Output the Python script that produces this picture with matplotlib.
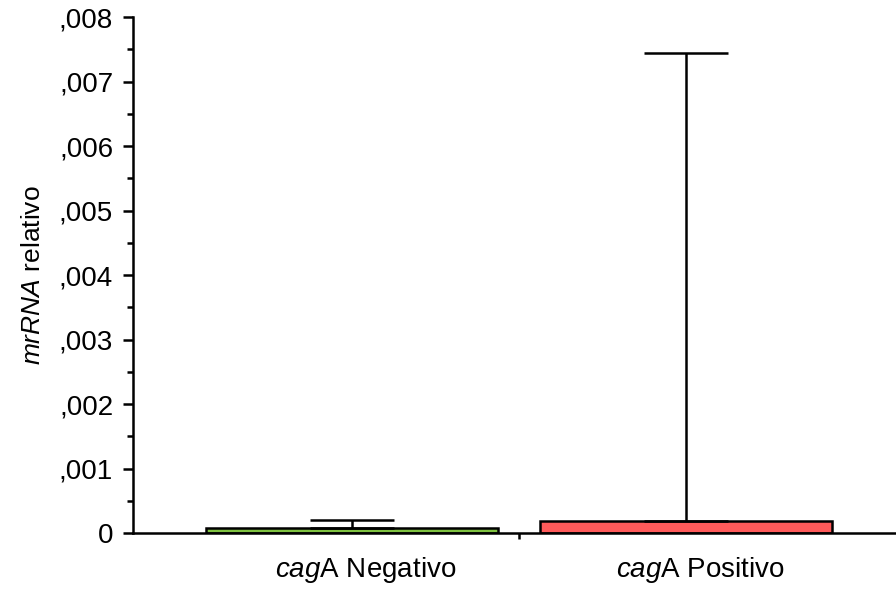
import numpy as np
import matplotlib
matplotlib.use("Agg")
import matplotlib.pyplot as plt

plt.rcParams['font.family'] = ['Liberation Sans', 'DejaVu Sans']
plt.rcParams['mathtext.fontset'] = 'custom'
plt.rcParams['mathtext.rm'] = 'Liberation Sans'
plt.rcParams['mathtext.it'] = 'Liberation Sans:italic'

categories = [r'$\mathit{cag}$A Negativo', r'$\mathit{cag}$A Positivo']
means = [0.00008, 0.00019]
upper_err = [0.00012, 0.00726]
colors = ['#7fc241', '#ff5a5a']
yticks = [0, 0.001, 0.002, 0.003, 0.004, 0.005, 0.006, 0.007, 0.008]
ytick_labels = ['0', ',001', ',002', ',003', ',004', ',005', ',006', ',007', ',008']

fig = plt.figure(figsize=(8.96, 5.91), dpi=100)
ax = fig.add_axes([0.148, 0.098, 0.852, 0.873])

x = np.arange(len(categories))
lw = 1.8
ax.bar(x, means, width=0.874, color=colors, edgecolor='black', linewidth=lw, zorder=2)
ax.errorbar(x, means, yerr=[np.zeros(len(means)), upper_err], fmt='none',
            ecolor='black', elinewidth=lw, capsize=30, capthick=lw, zorder=3)

ax.set_xlim(-0.656, 1.629)
ax.set_ylim(0, 0.008)
ax.set_yticks(yticks)
ax.set_yticklabels(ytick_labels, fontsize=20)
ax.set_yticks(np.arange(0.0005, 0.008, 0.001), minor=True)
ax.tick_params(axis='y', which='major', length=7, width=lw, pad=7)
ax.tick_params(axis='y', which='minor', length=4, width=lw)

ax.set_xticks(x + 0.043)
ax.set_xticklabels(categories, fontsize=20)
ax.set_xticks([0.5], minor=True)
ax.tick_params(axis='x', which='major', length=0, pad=16)
ax.tick_params(axis='x', which='minor', length=4, width=lw)

for s in ['top', 'right']:
    ax.spines[s].set_visible(False)
ax.spines['left'].set_linewidth(lw)
ax.spines['bottom'].set_linewidth(lw)

ax.set_ylabel(r'$\mathit{mrRNA}$ relativo', fontsize=19, labelpad=10)

fig.savefig('out.png', dpi=100)
